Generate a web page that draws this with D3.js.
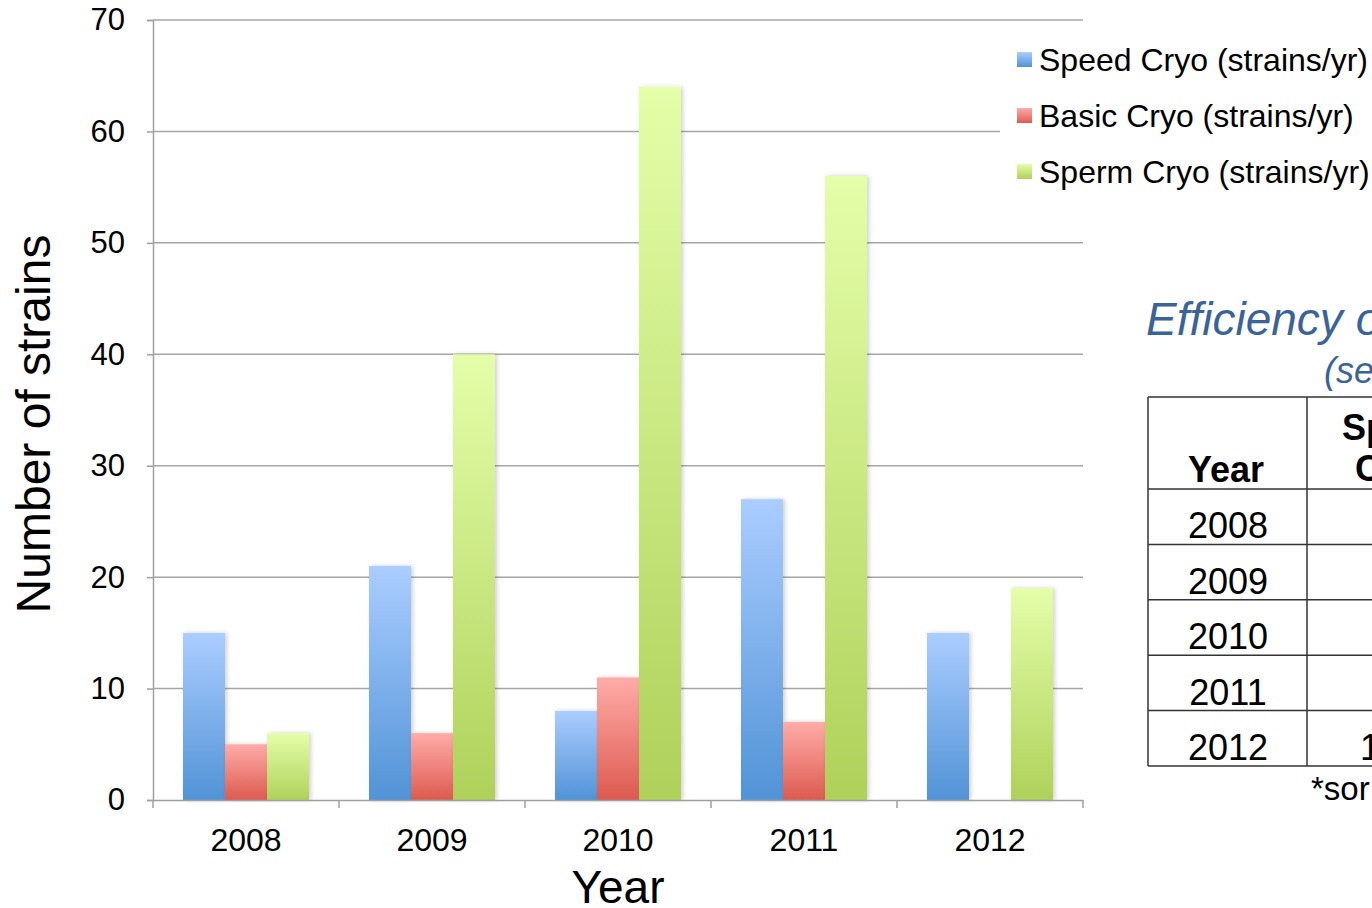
<!DOCTYPE html>
<html><head><meta charset="utf-8">
<script src="https://cdn.jsdelivr.net/npm/d3@7"></script>
<style>body{margin:0;background:#fff;} svg{display:block;font-family:"Liberation Sans",Arial,sans-serif;}</style>
</head><body>
<svg id="c" width="1372" height="908"></svg>
<script>
const years = ["2008","2009","2010","2011","2012"];
const seriesNames = ["Speed Cryo (strains/yr)","Basic Cryo (strains/yr)","Sperm Cryo (strains/yr)"];
const speedCryo = [15,21,8,27,15];
const basicCryo = [5,6,11,7,0];
const spermCryo = [6,40,64,56,19];
const yTicks = [0,10,20,30,40,50,60,70];
const tableYears = ["2008","2009","2010","2011","2012"];
const tableSpeed = ["","","","","1"];
const tableTitle = "Efficiency of";
const tableSub = "(se";
const footnote = "*sor";

const colors = [
  {top:"#abcdff", bot:"#5193d6"},
  {top:"#ffaca8", bot:"#dc5a4f"},
  {top:"#e4fea9", bot:"#afd15a"}
];
const seriesVals = [speedCryo, basicCryo, spermCryo];

const svg = d3.select("#c");
const defs = svg.append("defs");
colors.forEach((c,i)=>{
  const g = defs.append("linearGradient").attr("id","g"+i).attr("x1",0).attr("y1",0).attr("x2",0).attr("y2",1);
  g.append("stop").attr("offset","0%").attr("stop-color",c.top);
  g.append("stop").attr("offset","100%").attr("stop-color",c.bot);
});
const f = defs.append("filter").attr("id","sh").attr("x","-20%").attr("y","-5%").attr("width","150%").attr("height","110%");
f.append("feDropShadow").attr("dx",2).attr("dy",0).attr("stdDeviation",2).attr("flood-color","#000").attr("flood-opacity",0.18);

const L=153, R=1083, T=20, B=800;
const x = d3.scaleBand().domain(years).range([L,R]).paddingInner(0).paddingOuter(0);
const xs = d3.scaleBand().domain([0,1,2]).range([30, x.bandwidth()-30]).padding(0);
const y = d3.scaleLinear().domain([0,70]).range([B,T]);

// gridlines
svg.append("g").selectAll("line").data(yTicks.filter(d=>d>0)).join("line")
  .attr("x1",L).attr("x2",R).attr("y1",d=>y(d)).attr("y2",d=>y(d))
  .attr("stroke","#a6a6a6").attr("stroke-width",1.5);

// bars
const grp = svg.append("g").selectAll("g").data(years).join("g")
  .attr("transform",d=>`translate(${x(d)},0)`);
grp.selectAll("rect").data((d,i)=>seriesVals.map((s,k)=>({k,v:s[i]}))).join("rect")
  .filter(d=>d.v>0)
  .attr("x",d=>xs(d.k)).attr("width",xs.bandwidth())
  .attr("y",d=>y(d.v)).attr("height",d=>B-y(d.v))
  .attr("fill",d=>`url(#g${d.k})`).attr("filter","url(#sh)");

// y axis
const yAxis = svg.append("g").attr("transform",`translate(${L},0)`)
  .call(d3.axisLeft(y).tickValues(yTicks).tickSize(6).tickPadding(22).tickFormat(d3.format("d")));
yAxis.select(".domain").attr("stroke","#a0a0a0").attr("stroke-width",1.5);
yAxis.selectAll(".tick line").attr("stroke","#a0a0a0").attr("stroke-width",1.5);
yAxis.selectAll(".tick text").attr("font-size",31).attr("fill","#000").attr("font-family","Liberation Sans, Arial, sans-serif");

// x axis
const xAxis = svg.append("g").attr("transform",`translate(0,${B})`)
  .call(d3.axisBottom(x).tickSize(0).tickPadding(28));
xAxis.select(".domain").attr("stroke","#a0a0a0").attr("stroke-width",1.5);
xAxis.selectAll(".tick text").attr("font-size",32).attr("fill","#000").attr("font-family","Liberation Sans, Arial, sans-serif");
const bounds = years.map(d=>x(d)).concat([R]);
svg.append("g").selectAll("line").data(bounds).join("line")
  .attr("x1",d=>d).attr("x2",d=>d).attr("y1",B).attr("y2",B+8)
  .attr("stroke","#a0a0a0").attr("stroke-width",1.5);

// axis titles
svg.append("text").attr("x",618).attr("y",903).attr("text-anchor","middle")
  .attr("font-size",46).text("Year");
svg.append("text").attr("transform",`translate(50,424) rotate(-90)`).attr("text-anchor","middle")
  .attr("font-size",48).text("Number of strains");

// legend
const lg = svg.append("g");
lg.append("rect").attr("x",1000).attr("y",36).attr("width",372).attr("height",160).attr("fill","#fff");
seriesNames.forEach((n,i)=>{
  const cy = 60 + i*56;
  lg.append("rect").attr("x",1017).attr("y",cy-8).attr("width",15).attr("height",15).attr("fill",`url(#g${i})`);
  lg.append("text").attr("x",1039).attr("y",cy+11).attr("font-size",32).text(n);
});

// table
const tb = svg.append("g");
tb.append("text").attr("x",1146).attr("y",335).attr("font-size",46).attr("font-style","italic")
  .attr("fill","#3a6497").text(tableTitle);
tb.append("text").attr("x",1324).attr("y",383).attr("font-size",36).attr("font-style","italic")
  .attr("fill","#3a6497").text(tableSub);
const tL=1148, tR=1500, tTop=397, hdrB=489, rowH=55.4, colX=1307;
const rowLines = [tTop, hdrB].concat(tableYears.map((d,i)=>hdrB+rowH*(i+1)));
tb.selectAll("line.h").data(rowLines).join("line").attr("class","h")
  .attr("x1",tL).attr("x2",tR).attr("y1",d=>d).attr("y2",d=>d).attr("stroke","#333").attr("stroke-width",1.5);
const tBot = rowLines[rowLines.length-1];
[tL,colX].forEach(cx=>tb.append("line").attr("x1",cx).attr("x2",cx).attr("y1",tTop).attr("y2",tBot)
  .attr("stroke","#333").attr("stroke-width",1.5));
tb.append("text").attr("x",1226).attr("y",482).attr("text-anchor","middle").attr("font-size",36)
  .attr("font-weight","bold").text("Year");
tb.append("text").attr("x",1342).attr("y",440).attr("font-size",36)
  .attr("font-weight","bold").text("Speed");
tb.append("text").attr("x",1355).attr("y",481).attr("font-size",36)
  .attr("font-weight","bold").text("Cryo*");
tableYears.forEach((d,i)=>{
  const by = hdrB + rowH*(i+1) - 6;
  tb.append("text").attr("x",1228).attr("y",by).attr("text-anchor","middle").attr("font-size",36).text(d);
  tb.append("text").attr("x",1360).attr("y",by).attr("font-size",36).text(tableSpeed[i]);
});
tb.append("text").attr("x",1311).attr("y",800).attr("font-size",33).text(footnote);
</script>
</body></html>
